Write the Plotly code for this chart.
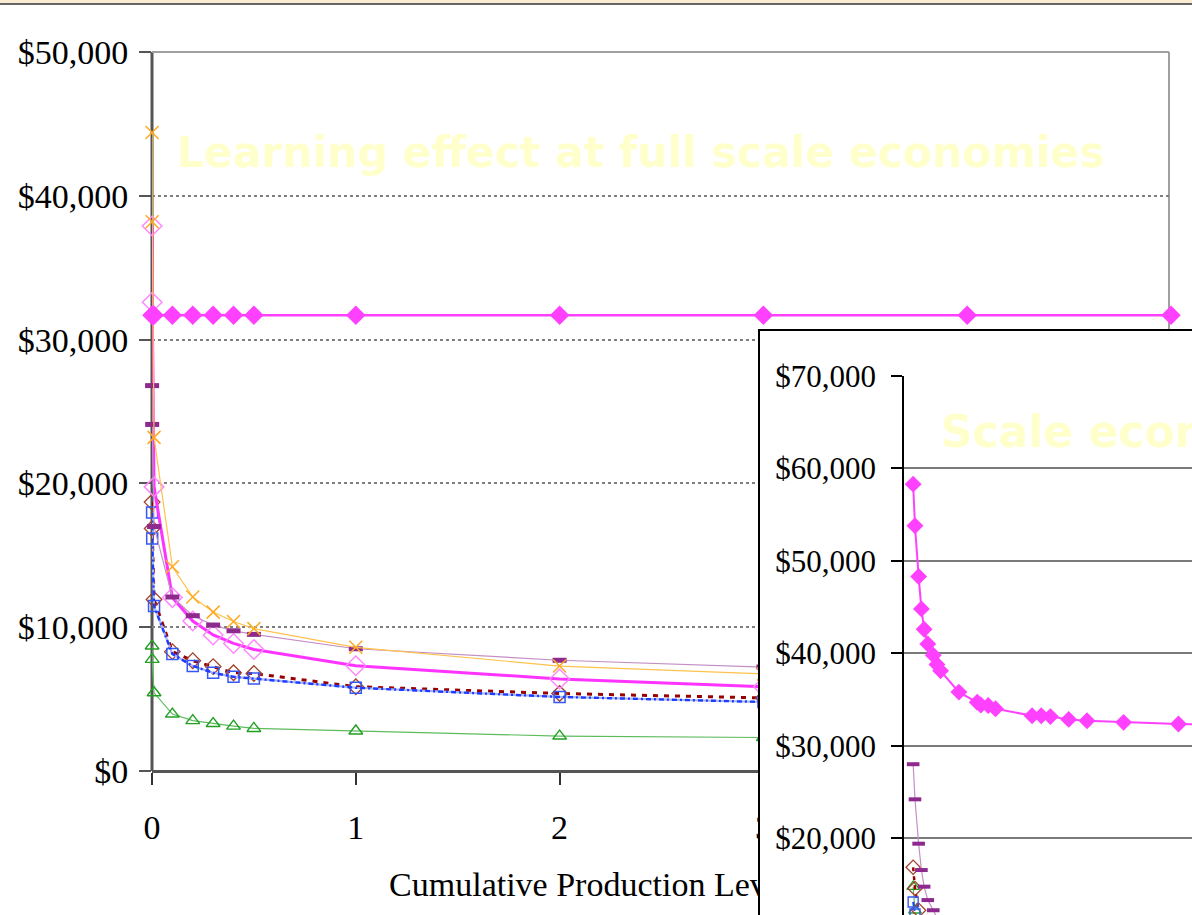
import plotly.graph_objects as go

W, H = 1192, 915

# ---------------- main chart: unit cost vs cumulative production ----------------
X_LEARN = [0.0005, 0.001, 0.01, 0.1, 0.2, 0.3, 0.4, 0.5, 1, 2, 3]
X_FULL = [0.0005, 0.001, 0.01, 0.1, 0.2, 0.3, 0.4, 0.5, 1, 2, 3, 4, 5]

cost_orange = [44400, 38200, 23200, 14200, 12100, 11050, 10400, 9900, 8600, 7300, 6750]
cost_purple = [26800, 24100, 17000, 12100, 10800, 10150, 9750, 9500, 8500, 7700, 7230]
cost_pink = [37900, 32600, 19760, 12060, 10430, 9460, 8870, 8450, 7320, 6400, 5860]
cost_brown = [18700, 16860, 11930, 8300, 7670, 7260, 6830, 6780, 5860, 5390, 5080]
cost_blue = [17980, 16170, 11470, 8140, 7300, 6830, 6550, 6430, 5790, 5150, 4800]
cost_green = [8690, 7760, 5440, 3960, 3500, 3300, 3120, 2960, 2780, 2430, 2330]
cost_full_scale = [31700, 31700, 31700, 31700, 31700, 31700, 31700,
                   31700, 31700, 31700, 31700, 31700, 31700]

MAIN_X_TICKS = [0, 1, 2, 3, 4, 5]
MAIN_Y_TICKS = [0, 10000, 20000, 30000, 40000, 50000]
MAIN_Y_LABELS = ["$0", "$10,000", "$20,000", "$30,000", "$40,000", "$50,000"]
X_TITLE = "Cumulative Production Level (millions)"

# ---------------- inset chart: unit cost vs production scale ----------------
X_SCALE = [0.05, 0.06, 0.08, 0.095, 0.11, 0.13, 0.16, 0.18, 0.2, 0.3, 0.4,
           0.42, 0.46, 0.5, 0.7, 0.75, 0.8, 0.9, 1.0, 1.2, 1.5, 2.0]
scale_cost = [58300, 53800, 48300, 44800, 42600, 41000, 39800, 38800, 38100,
              35800, 34700, 34400, 34350, 34000, 33250, 33250, 33150, 32850,
              32700, 32530, 32350, 32150]
X_SCALE_PURPLE = [0.05, 0.06, 0.08, 0.095, 0.11, 0.13, 0.16, 0.18]
scale_purple = [28000, 24200, 19400, 16550, 14750, 13300, 12200, 11400]
X_SCALE_BROWN = [0.05, 0.06, 0.08]
scale_brown = [16850, 14550, 12200]
X_SCALE_GREEN = [0.05, 0.06]
scale_green = [14750, 12200]
X_SCALE_BLUE = [0.05, 0.06]
scale_blue = [13100, 11800]

INSET_Y_TICKS = [20000, 30000, 40000, 50000, 60000, 70000]
INSET_Y_LABELS = ["$20,000", "$30,000", "$40,000", "$50,000", "$60,000", "$70,000"]

SERIF = "Liberation Serif, Times New Roman, serif"
SANS_BOLD = "DejaVu Sans, Verdana, sans-serif"

# page-pixel geometry of the two panels
MAIN_LEFT, MAIN_RIGHT, MAIN_TOP, MAIN_ZERO = 152, 1171, 52, 771
FRAME_RIGHT = 1169
BOX_LEFT, BOX_TOP = 760, 331
INSET_LEFT, INSET_TOP = 904, 376
INSET_PX_PER_UNIT, INSET_PX_PER_10K = 183.0, 92.43


def px_x(p):
    return p / W


def px_y(p):
    return 1 - p / H


x_range = [0, 5]
y_top = 50000
y_per_px = y_top / (MAIN_ZERO - MAIN_TOP)
# main plot area runs to the page bottom so the axis title sits inside it
y_range = [-(H - MAIN_ZERO) * y_per_px, y_top]
inset_y_bottom = 70000 - (H - INSET_TOP) / INSET_PX_PER_10K * 10000

fig = go.Figure()


def add_line(x, y, line, marker=None, axes=("x", "y"), mode="lines+markers", clip=False):
    fig.add_trace(go.Scatter(
        x=x, y=y, mode=mode, line=line, marker=marker or {},
        xaxis=axes[0], yaxis=axes[1], cliponaxis=clip, hoverinfo="skip",
    ))


# main chart series (drawn bottom to top)
add_line(X_LEARN, cost_green, dict(color="#5DBB5D", width=1.2),
         dict(symbol="triangle-up-open", size=12, color="#22A022", line=dict(width=1.4, color="#22A022")))
add_line(X_LEARN, cost_brown, dict(color="#990000", width=3, dash="5px,6px"),
         dict(symbol="diamond-open", size=12, color="#A3402C", line=dict(width=1.3, color="#A3402C")))
add_line(X_LEARN, cost_blue, dict(color="#A6B4FF", width=2.2),
         dict(symbol="square-open", size=11, color="#3558F5", line=dict(width=1.5, color="#3558F5")))
add_line(X_LEARN, cost_blue, dict(color="#1E3CFF", width=2.4, dash="5px,3px,2px,3px"), mode="lines")
add_line(X_LEARN, cost_pink, dict(color="#FF33FF", width=3),
         dict(symbol="diamond-open", size=15, color="#FF88FF", line=dict(width=1.5, color="#FF88FF")))
add_line(X_LEARN, cost_purple, dict(color="#C48FC4", width=1.2),
         dict(symbol="line-ew", size=10, color="#8E2A8E", line=dict(width=5, color="#8E2A8E")))
add_line(X_LEARN, cost_orange, dict(color="#FFC24D", width=1.2),
         dict(symbol="x-thin-open", size=13, color="#FFAA22", line=dict(width=1.5, color="#FFAA22")))
add_line(X_FULL, cost_full_scale, dict(color="#FF40FF", width=2.5),
         dict(symbol="diamond", size=15, color="#FF40FF", line=dict(width=0)))

# x-axis title, kept in the main panel so the inset box covers its tail
fig.add_trace(go.Scatter(
    x=[sum(x_range) / 2], y=[-(887 - MAIN_ZERO) * y_per_px],
    mode="text", text=[X_TITLE], textposition="middle center",
    textfont=dict(family=SERIF, size=34, color="black"), hoverinfo="skip",
))

# blank panel (white box with black top/left border) behind the inset
fig.add_trace(go.Scatter(x=[], y=[], xaxis="x2", yaxis="y2", hoverinfo="skip"))

# inset series
add_line(X_SCALE_GREEN, scale_green, dict(color="#5DBB5D", width=1.2),
         dict(symbol="triangle-up-open", size=11, color="#22A022", line=dict(width=1.3, color="#22A022")),
         axes=("x3", "y3"), clip=True)
add_line(X_SCALE_BROWN, scale_brown, dict(color="#990000", width=2.5, dash="4px,5px"),
         dict(symbol="diamond-open", size=11, color="#A3402C", line=dict(width=1.3, color="#A3402C")),
         axes=("x3", "y3"), clip=True)
add_line(X_SCALE_BLUE, scale_blue, dict(color="#1E3CFF", width=2, dash="4px,3px,2px,3px"),
         dict(symbol="square-open", size=10, color="#3558F5", line=dict(width=1.4, color="#3558F5")),
         axes=("x3", "y3"), clip=True)
add_line(X_SCALE_PURPLE, scale_purple, dict(color="#C48FC4", width=1.2),
         dict(symbol="line-ew", size=9, color="#8E2A8E", line=dict(width=4, color="#8E2A8E")),
         axes=("x3", "y3"), clip=True)
add_line(X_SCALE, scale_cost, dict(color="#FF40FF", width=2),
         dict(symbol="diamond", size=13, color="#FF40FF", line=dict(width=0)),
         axes=("x3", "y3"), clip=True)

fig.update_layout(
    width=W, height=H,
    margin=dict(l=0, r=0, t=0, b=0, pad=0, autoexpand=False),
    paper_bgcolor="white", plot_bgcolor="white",
    showlegend=False, hovermode=False,
    xaxis=dict(
        domain=[px_x(MAIN_LEFT), px_x(MAIN_RIGHT)], range=x_range,
        anchor="free", position=px_y(MAIN_ZERO),
        tickvals=MAIN_X_TICKS, ticks="outside", ticklen=12, tickwidth=2, tickcolor="#333",
        showline=True, linecolor="#555", linewidth=3, showgrid=False, zeroline=False,
        tickfont=dict(family=SERIF, size=34, color="black"), ticklabelstandoff=13,
        layer="below traces", automargin=False,
    ),
    yaxis=dict(
        domain=[0, px_y(MAIN_TOP)], range=y_range, anchor="x",
        tickvals=MAIN_Y_TICKS, ticktext=MAIN_Y_LABELS,
        ticks="outside", ticklen=12, tickwidth=2, tickcolor="#555",
        showline=False, showgrid=True, gridcolor="#7F7F7F", gridwidth=1.5,
        griddash="dot", zeroline=False,
        tickfont=dict(family=SERIF, size=34, color="black"), ticklabelstandoff=4,
        layer="below traces", automargin=False,
    ),
    xaxis2=dict(
        domain=[px_x(BOX_LEFT), 1], range=[0, 1], anchor="y2", side="top",
        showline=True, linecolor="black", linewidth=2, automargin=False,
        showticklabels=False, ticks="", showgrid=False, zeroline=False,
    ),
    yaxis2=dict(
        domain=[0, px_y(BOX_TOP)], range=[0, 1], anchor="x2", side="left",
        showline=True, linecolor="black", linewidth=2, automargin=False,
        showticklabels=False, ticks="", showgrid=False, zeroline=False,
    ),
    xaxis3=dict(
        domain=[px_x(INSET_LEFT), 1], range=[0, (W - INSET_LEFT) / INSET_PX_PER_UNIT],
        anchor="y3", visible=False, automargin=False,
    ),
    yaxis3=dict(
        domain=[0, px_y(INSET_TOP)], range=[inset_y_bottom, 70000], anchor="x3",
        tickvals=INSET_Y_TICKS, ticktext=INSET_Y_LABELS,
        ticks="outside", ticklen=11, tickwidth=1.5, tickcolor="black",
        showline=True, linecolor="black", linewidth=1.5,
        showgrid=True, gridcolor="#7A7A7A", gridwidth=1.8, zeroline=False,
        tickfont=dict(family=SERIF, size=31, color="black"), ticklabelstandoff=9,
        layer="below traces", automargin=False,
    ),
    annotations=[
        dict(text="<b>Learning effect at full scale economies</b>",
             xref="paper", yref="paper", x=px_x(175), y=px_y(152),
             xanchor="left", yanchor="middle", showarrow=False,
             font=dict(family=SANS_BOLD, size=42.5, color="#FFFFCC")),
        dict(text="<b>Scale economies</b>",
             xref="paper", yref="paper", x=px_x(939), y=px_y(431),
             xanchor="left", yanchor="middle", showarrow=False,
             font=dict(family=SANS_BOLD, size=44, color="#FFFFCC")),
    ],
    shapes=[
        # value axis line of the main panel
        dict(type="line", xref="paper", yref="paper", x0=px_x(MAIN_LEFT), x1=px_x(MAIN_LEFT),
             y0=px_y(MAIN_TOP), y1=px_y(MAIN_ZERO), line=dict(color="#555555", width=3),
             layer="below"),
        # plot frame, top and right edges
        dict(type="line", xref="paper", yref="paper", x0=px_x(MAIN_LEFT), x1=px_x(FRAME_RIGHT),
             y0=px_y(MAIN_TOP), y1=px_y(MAIN_TOP), line=dict(color="#A0A0A0", width=2),
             layer="below"),
        dict(type="line", xref="paper", yref="paper", x0=px_x(FRAME_RIGHT), x1=px_x(FRAME_RIGHT),
             y0=px_y(MAIN_TOP), y1=px_y(MAIN_ZERO), line=dict(color="#A0A0A0", width=2),
             layer="below"),
        # slide header strip
        dict(type="rect", xref="paper", yref="paper", x0=0, x1=1, y0=px_y(3.3), y1=1,
             fillcolor="#FBEBD3", line=dict(width=0), layer="above"),
        dict(type="line", xref="paper", yref="paper", x0=0, x1=1, y0=px_y(4), y1=px_y(4),
             line=dict(color="#333333", width=1.6), layer="above"),
    ],
)

fig.write_html("out.html")
